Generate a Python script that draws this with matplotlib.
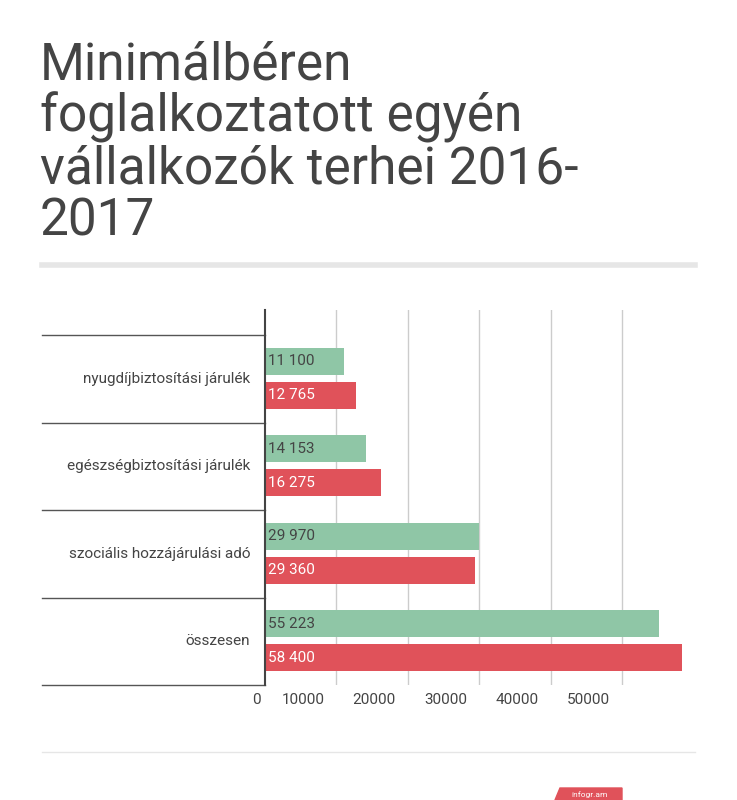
import matplotlib.pyplot as plt
from matplotlib.patches import Polygon, Rectangle

categories = ["nyugdíjbiztosítási járulék", "egészségbiztosítási járulék",
              "szociális hozzájárulási adó", "összesen"]
values_2016 = [11100, 14153, 29970, 55223]
values_2017 = [12765, 16275, 29360, 58400]
labels_2016 = ["11 100", "14 153", "29 970", "55 223"]
labels_2017 = ["12 765", "16 275", "29 360", "58 400"]
ticks = [10000, 20000, 30000, 40000, 50000]

GREEN = "#8fc6a6"
RED = "#e0525a"
TXT = "#444444"
W, H = 737, 800

plt.rcParams["font.family"] = "Roboto"
fig = plt.figure(figsize=(W / 100, H / 100), dpi=100)

# title
title = "Minimálbéren\nfoglalkoztatott egyén\nvállalkozók terhei 2016-\n2017"
fig.text(40 / W, 1 - 40 / H, title, fontsize=37, color=TXT, va="top", ha="left",
         linespacing=1.04)
fig.add_artist(plt.Line2D([42 / W, 695 / W], [1 - 265 / H] * 2, color="#e6e6e6", lw=4))
fig.add_artist(plt.Line2D([42 / W, 695 / W], [1 - 752 / H] * 2, color="#e6e6e6", lw=1))

ax = fig.add_axes([265 / W, 1 - 685 / H, 425 / W, 375 / H])
ax.set_xlim(0, 59500)
top = -25 / 87.5
ax.set_ylim(4, top)
for s in ["top", "right", "bottom"]:
    ax.spines[s].set_visible(False)
ax.spines["left"].set_color(TXT)
ax.spines["left"].set_linewidth(1.5)
ax.set_xticks([])
ax.set_yticks([])
for t in ticks:
    ax.axvline(t, color="#cccccc", lw=1, zorder=0)

yg = [i + 0.30 for i in range(len(categories))]
yr = [i + 0.69 for i in range(len(categories))]
h = 0.31
ax.barh(yg, values_2016, height=h, color=GREEN, zorder=2)
ax.barh(yr, values_2017, height=h, color=RED, zorder=2)

clip = Rectangle((42 / W, 0), (263 - 42) / W, 1, transform=fig.transFigure, visible=False)
fig.add_artist(clip)
for i in range(len(categories)):
    ax.text(400, yg[i], labels_2016[i], color=TXT, fontsize=11, va="center", zorder=3)
    ax.text(400, yr[i], labels_2017[i], color="white", fontsize=11, va="center", zorder=3)
    lab = ax.text(-0.035, i + 0.5, categories[i], transform=ax.get_yaxis_transform(),
                  ha="right", va="center", fontsize=11, color=TXT, clip_on=True)
    lab.set_clip_path(clip)

ytr = ax.get_yaxis_transform()
for b in range(len(categories) + 1):
    ax.plot([-0.525, 0], [b, b], transform=ytr, color="#555555", lw=1, clip_on=False)

# tick labels, drawn left of their gridlines like the original
ax.text(-0.01, 4.17, "0", transform=ytr, ha="right", va="center", fontsize=11, color=TXT)
for t in ticks:
    ax.text(t - 4700, 4.17, str(t), ha="center", va="center", fontsize=11, color=TXT,
            clip_on=False)

# logo tag
fig.add_artist(Polygon([[555 / W, 0], [560 / W, 12 / H], [622 / W, 12 / H], [622 / W, 0]],
                       closed=True, color=RED, transform=fig.transFigure))
fig.text(590 / W, 5 / H, "infogr.am", fontsize=6, color="white", ha="center", va="center")

fig.savefig("out.png", dpi=100)
